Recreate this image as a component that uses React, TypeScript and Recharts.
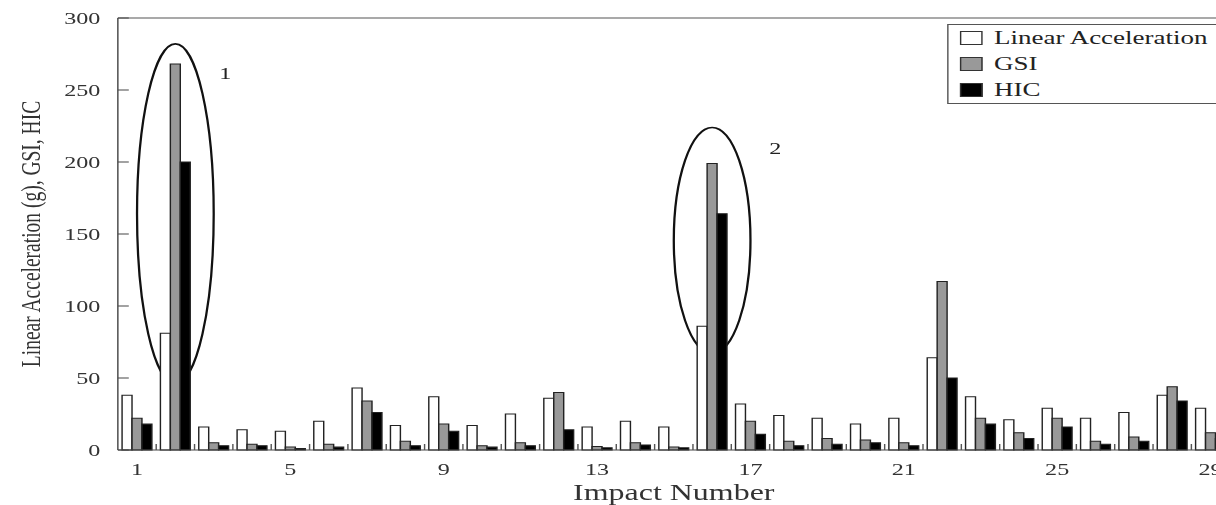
import React from 'react';
import {
  BarChart, Bar, XAxis, YAxis, Legend, ReferenceArea, ReferenceDot, ReferenceLine,
} from 'recharts';

// values
const impacts = [1, 2, 3, 4, 5, 6, 7, 8, 9, 10, 11, 12, 13, 14, 15, 16, 17, 18, 19, 20, 21, 22, 23, 24, 25, 26, 27, 28, 29];
const linearAcc = [38, 81, 16, 14, 13, 20, 43, 17, 37, 17, 25, 36, 16, 20, 16, 86, 32, 24, 22, 18, 22, 64, 37, 21, 29, 22, 26, 38, 29];
const gsi = [22, 268, 5, 4, 2, 4, 34, 6, 18, 3, 5, 40, 2.5, 5, 2, 199, 20, 6, 8, 7, 5, 117, 22, 12, 22, 6, 9, 44, 12];
const hic = [18, 200, 3, 3, 1, 2, 26, 3, 13, 2, 3, 14, 1.5, 3.5, 1.5, 164, 11, 3, 4, 5, 3, 50, 18, 8, 16, 4, 6, 34, 8];
const xLabelTicks = [1, 5, 9, 13, 17, 21, 25, 29];
const yTicks = [0, 50, 100, 150, 200, 250, 300];

const series = [
  { key: 'linear', name: 'Linear Acceleration', fill: '#ffffff' },
  { key: 'gsi', name: 'GSI', fill: '#999999' },
  { key: 'hic', name: 'HIC', fill: '#000000' },
];

// circled groups and their numbers
const circles = [
  { x1: 1, x2: 3, y1: 46, y2: 282, label: '1', lx: 3.3, ly: 262 },
  { x1: 15, x2: 17, y1: 67, y2: 224, label: '2', lx: 17.65, ly: 210 },
];

const data = impacts.map((n, i) => ({ impact: n, linear: linearAcc[i], gsi: gsi[i], hic: hic[i] }));
// small marks between the impact groups + the numbered labels
const boundaries = impacts.slice(1).map((n) => n - 0.5);
const xTicks = [...xLabelTicks, ...boundaries].sort((a, b) => a - b);

const FONT = '"Liberation Serif", "Times New Roman", serif';
const STRETCH = 1.42; // the source figure is stretched horizontally

const XTick = (props: any) => {
  const { x, y, payload } = props;
  const v = payload.value;
  if (Number.isInteger(v)) {
    return (
      <text x={x} y={y + 13} dy="0.71em" textAnchor="middle" fill="#333" fontSize={17} fontFamily={FONT}>
        {v}
      </text>
    );
  }
  return <line x1={x} x2={x} y1={y} y2={y - 6} stroke="#555" strokeWidth={1} />;
};

const LegendBox = () => (
  <div
    style={{
      border: '1px solid #555',
      background: '#fff',
      width: 200,
      fontFamily: FONT,
      fontSize: 19,
      color: '#222',
      paddingLeft: 8,
      boxSizing: 'border-box',
    }}
  >
    {series.map((s) => (
      <div key={s.key} style={{ display: 'flex', alignItems: 'center', height: 26 }}>
        <span
          style={{
            display: 'inline-block',
            width: 14,
            height: 12,
            background: s.fill,
            border: '1px solid #333',
            marginRight: 8,
          }}
        />
        <span>{s.name}</span>
      </div>
    ))}
  </div>
);

const EllipseShape = (props: any) => {
  const { x, y, width, height } = props;
  return (
    <ellipse
      cx={x + width / 2}
      cy={y + height / 2}
      rx={width / 2}
      ry={height / 2}
      fill="none"
      stroke="#111"
      strokeWidth={1.6}
    />
  );
};

export default function App() {
  return (
    <div style={{ position: 'absolute', left: 0, top: 0, width: 1216, height: 505, overflow: 'hidden', background: '#fff' }}>
      <div style={{ width: 880, height: 505, transform: `scaleX(${STRETCH})`, transformOrigin: 'left top' }}>
        <BarChart
          width={880}
          height={505}
          data={data}
          margin={{ top: 18, right: 14, bottom: 0, left: 0 }}
          barCategoryGap="11%"
          barGap={0}
        >
          <XAxis
            xAxisId="num"
            dataKey="impact"
            type="number"
            domain={[0.5, 29.5]}
            allowDataOverflow
            ticks={xTicks}
            interval={0}
            tick={XTick}
            tickLine={false}
            tickSize={0}
            tickMargin={0}
            axisLine={{ stroke: '#444' }}
            height={55}
            label={{
              value: 'Impact Number',
              position: 'insideBottom',
              offset: 5,
              fill: '#333',
              fontSize: 22.5,
              fontFamily: FONT,
            }}
          />
          <XAxis xAxisId="cat" dataKey="impact" hide height={0} />
          <YAxis
            width={83}
            domain={[0, 300]}
            ticks={yTicks}
            tickSize={-7.7}
            tickMargin={20}
            axisLine={{ stroke: '#444' }}
            tickLine={{ stroke: '#444' }}
            tick={{ fill: '#333', fontSize: 17, fontFamily: FONT }}
            label={{
              value: 'Linear Acceleration (g), GSI, HIC',
              angle: -90,
              position: 'insideLeft',
              offset: 21,
              fill: '#333',
              fontSize: 19.5,
              fontFamily: FONT,
              style: { textAnchor: 'middle' },
            }}
          />
          <ReferenceLine xAxisId="num" y={300} stroke="#555" />
          {circles.map((c) => (
            <ReferenceArea
              key={c.label}
              xAxisId="num"
              x1={c.x1}
              x2={c.x2}
              y1={c.y1}
              y2={c.y2}
              shape={EllipseShape}
            />
          ))}
          {circles.map((c) => (
            <ReferenceDot
              key={'l' + c.label}
              xAxisId="num"
              x={c.lx}
              y={c.ly}
              r={0}
              fill="none"
              stroke="none"
              label={{ value: c.label, position: 'center', fill: '#222', fontSize: 17, fontFamily: FONT }}
            />
          ))}
          {series.map((s) => (
            <Bar
              key={s.key}
              xAxisId="cat"
              dataKey={s.key}
              name={s.name}
              fill={s.fill}
              stroke="#222"
              strokeWidth={1}
              isAnimationActive={false}
            />
          ))}
          <Legend
            layout="vertical"
            align="center"
            verticalAlign="middle"
            wrapperStyle={{ left: 667, top: 24, width: 200 }}
            content={() => <LegendBox />}
          />
        </BarChart>
      </div>
    </div>
  );
}
